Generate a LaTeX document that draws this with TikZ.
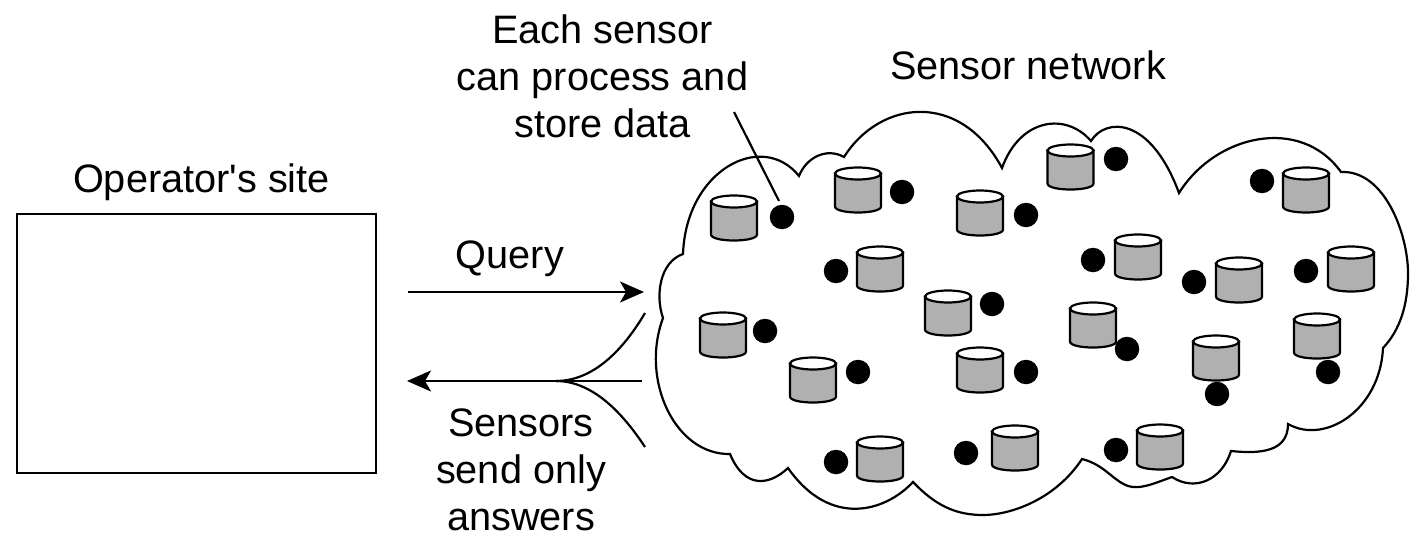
\documentclass[tikz,border=0pt]{standalone}
\usepackage{fontspec}
\setmainfont{Liberation Sans}
\newfontfamily\plainsans{Liberation Sans}
\usetikzlibrary{arrows.meta}
\tikzset{
  lbl/.style={inner sep=0pt,align=center,text=black,font=\fontsize{39.7}{47}\plainsans\selectfont},
  ln/.style={line width=2.2pt,draw=black},
  arr/.style={ln,-{Stealth[length=24pt,width=21pt,inset=6pt]}},
  sdot/.style={circle,fill=black,inner sep=0pt,minimum size=24.5pt},
  cyl/.pic={
    \path[ln,fill=black!31] (-23,-16.5) -- (-23,16.5) .. controls (-23,24.5) and (23,24.5) .. (23,16.5) -- (23,-16.5) -- cycle;
    \path[ln,fill=white] (0,-16.5) ellipse [x radius=23pt,y radius=6pt];
  }
}
\begin{document}
\begin{tikzpicture}[x=1pt,y=-1pt]
\useasboundingbox (0,0) rectangle (1420,556);
% operator's site
\node[lbl] (optitle) at (201.5,182) {Operator's site};
\node[ln,draw,minimum width=359pt,minimum height=259pt,inner sep=0pt] (site) at (196.5,343.5) {};
% cloud
\draw[ln,line join=miter]
  (683,254) .. controls (686,170) and (762,130) .. (799,176)
  .. controls (806,158) and (826,147) .. (844,157)
  .. controls (880,100) and (960,90) .. (1002,168)
  .. controls (1020,118) and (1066,112) .. (1091,141)
  .. controls (1105,118) and (1150,115) .. (1179,193)
  .. controls (1215,135) and (1300,115) .. (1341,172)
  .. controls (1385,170) and (1408,235) .. (1408,273)
  .. controls (1408,305) and (1400,330) .. (1383,348)
  .. controls (1380,410) and (1325,445) .. (1288,424)
  .. controls (1288,452) and (1260,454) .. (1231,451)
  .. controls (1222,480) and (1195,492) .. (1172,477)
  .. controls (1155,483) and (1140,490) .. (1128,486)
  .. controls (1112,480) and (1105,465) .. (1082,459)
  .. controls (1055,500) and (1010,515) .. (983,515)
  .. controls (955,515) and (935,505) .. (913,482)
  .. controls (885,512) and (830,528) .. (788,468)
  .. controls (770,485) and (745,490) .. (730,454)
  .. controls (675,455) and (640,380) .. (663,318)
  .. controls (655,295) and (660,262) .. (683,254)
  -- cycle;
% sensors
\foreach \n/\cx/\cy/\dx/\dy in {
  1/734/218/782/217, 2/858/190/902/192, 3/980/213/1026/215, 4/880/269/836/271,
  5/948/313/992/304, 6/1070.5/167/1116/159, 7/1306/190/1262/181, 8/1138/257/1093/260,
  9/1239/280/1194/282, 10/1351/269/1306/271, 11/723/335/765/331, 12/813/380/858/372,
  13/980/370/1026/372, 14/880/459/836/462, 15/1015/448/966/453, 16/1093/325/1127/349,
  17/1216/358/1217/394, 18/1317/336/1328/372, 19/1160/447/1116/450}{
  \pic at (\cx,\cy) {cyl};
  \node[sdot] (d\n) at (\dx,\dy) {};
}
% labels
\node[lbl] (each) at (602.5,76) {Each sensor\\can process and\\store data};
\node[lbl] (net) at (1028,65) {Sensor network};
\node[lbl] (query) at (510,259) {Query};
\node[lbl] (send) at (521,470) {Sensors\\send only\\answers};
% connectors
\coordinate (ptrA) at (734,112);
\coordinate (ptrB) at (779,201);
\draw[ln] (ptrA) -- (ptrB);
\coordinate (qA) at (408,292);
\coordinate (qB) at (644,292);
\draw[arr] (qA) -- (qB);
\coordinate (rA) at (642,381);
\coordinate (rB) at (407,381);
\coordinate (rM) at (556,381);
\coordinate (rU) at (645,313);
\coordinate (rL) at (645,447);
\draw[arr] (rA) -- (rB);
\draw[ln] (rU) .. controls (622,352) and (592,381) .. (rM);
\draw[ln] (rL) .. controls (622,412) and (592,381) .. (rM);
\end{tikzpicture}
\end{document}
